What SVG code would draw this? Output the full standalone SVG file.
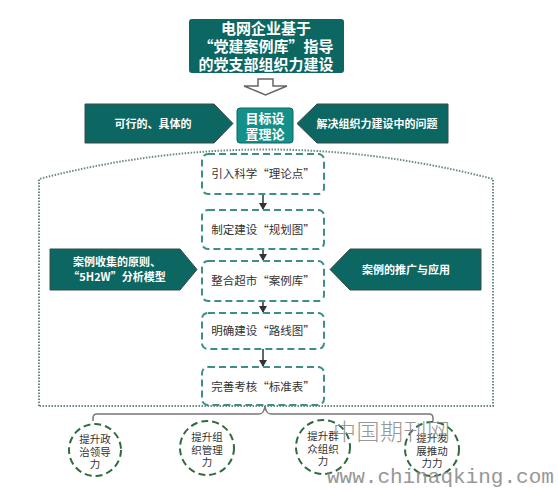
<svg xmlns="http://www.w3.org/2000/svg" width="558" height="489" viewBox="0 0 558 489">
<style>
.dark{fill:#0c6662;stroke:#3b4a48;stroke-width:1}
.wt{fill:#fff;font-family:"Noto Sans CJK SC","Liberation Sans",sans-serif;font-weight:bold;text-anchor:middle}
.box{fill:#fff;stroke:#3e8f8a;stroke-width:2;stroke-dasharray:7 4}
.bt{fill:#333;font-family:"Noto Sans CJK SC","Liberation Sans",sans-serif;font-size:11.5px;text-anchor:middle}
.circ{fill:#fff;stroke:#2f6b3c;stroke-width:2;stroke-dasharray:7 4}
.ct{fill:#333;font-family:"Liberation Sans","Noto Sans CJK SC",sans-serif;font-size:10.5px;text-anchor:middle}
.dot{fill:none;stroke:#6b8a80;stroke-width:2;stroke-dasharray:1.5 1.5}
.arr{stroke:#333;stroke-width:1.5;fill:none;marker-end:url(#ah)}
</style>
<defs>
<marker id="ah" markerWidth="8" markerHeight="8" refX="6" refY="4" orient="auto" markerUnits="userSpaceOnUse">
<path d="M0,0 L7,4 L0,8 Z" fill="#333"/>
</marker>
</defs>
<rect width="558" height="489" fill="#fff"/>
<g id="outline">
<path class="dot" d="M39,406 L39,179 Q266,120 493,179 L493,406 Z"/>
</g>
<g id="title">
<rect x="189" y="19" width="155" height="54" rx="3" fill="#0c6662"/>
<text class="wt" font-size="15" x="266" y="34">电网企业基于</text>
<text class="wt" font-size="15" x="266" y="52">“党建案例库”指导</text>
<text class="wt" font-size="15" x="266" y="70">的党支部组织力建设</text>
</g>
<g id="downarrow">
<path d="M258,79 L273,79 L273,86 L287,86 L265.5,95 L244,86 L258,86 Z" fill="#fff" stroke="#666" stroke-width="1.5"/>
</g>
<g id="left-top">
<path class="dark" d="M85,104 L214,104 L233,123.5 L214,143 L85,143 Z"/>
<text class="wt" font-size="11" x="153" y="128">可行的、具体的</text>
</g>
<g id="goal">
<rect x="237" y="108" width="56" height="35" rx="3" fill="#14908b" stroke="#0c6662" stroke-width="1"/>
<text class="wt" font-size="13" x="265" y="123" font-weight="normal">目标设</text>
<text class="wt" font-size="13" x="265" y="139" font-weight="normal">置理论</text>
</g>
<g id="right-top">
<path class="dark" d="M317,104 L448,104 L448,143 L317,143 L297,123.5 Z"/>
<text class="wt" font-size="11" x="377" y="128">解决组织力建设中的问题</text>
</g>
<g id="left-mid">
<path class="dark" d="M50,249 L180,249 L197,269.5 L180,290 L50,290 Z"/>
<text class="wt" font-size="11" x="117" y="266">案例收集的原则、</text>
<text class="wt" font-size="11" x="117" y="281">“5H2W”分析模型</text>
</g>
<g id="right-mid">
<path class="dark" d="M350,249 L481,249 L481,290 L350,290 L330,269.5 Z"/>
<text class="wt" font-size="11" x="406" y="274">案例的推广与应用</text>
</g>
<g id="connectors">
<line class="arr" x1="263" y1="194" x2="263" y2="209"/>
<line class="arr" x1="263" y1="249" x2="263" y2="260"/>
<line class="arr" x1="263" y1="301" x2="263" y2="312"/>
<line class="arr" x1="263" y1="349" x2="263" y2="366"/>
<path d="M93,421 L93,418 Q93,414 97,414 L259,414 Q264,414 265,406 Q266,414 271,414 L429,414 Q433,414 433,418 L433,421" fill="none" stroke="#777" stroke-width="1.5"/>
</g>
<g id="s1"><rect class="box" x="202" y="154" width="122" height="40" rx="6"/><text class="bt" x="263" y="178">引入科学“理论点”</text></g>
<g id="s2"><rect class="box" x="202" y="210" width="122" height="39" rx="6"/><text class="bt" x="263" y="234">制定建设“规划图”</text></g>
<g id="s3"><rect class="box" x="202" y="261" width="122" height="40" rx="6"/><text class="bt" x="263" y="285">整合超市“案例库”</text></g>
<g id="s4"><rect class="box" x="202" y="313" width="122" height="36" rx="6"/><text class="bt" x="263" y="335">明确建设“路线图”</text></g>
<g id="s5"><rect class="box" x="202" y="367" width="122" height="38" rx="6"/><text class="bt" x="263" y="391">完善考核“标准表”</text></g>
<g id="c1"><circle class="circ" cx="95" cy="450" r="26"/><text class="ct" x="95" y="443">提升政</text><text class="ct" x="95" y="455.5">治领导</text><text class="ct" x="95" y="468">力</text></g>
<g id="c2"><circle class="circ" cx="207" cy="448" r="27"/><text class="ct" x="207" y="441">提升组</text><text class="ct" x="207" y="453.5">织管理</text><text class="ct" x="207" y="466">力</text></g>
<g id="c3"><circle class="circ" cx="323" cy="447" r="27"/><text class="ct" x="323" y="440">提升群</text><text class="ct" x="323" y="452.5">众组织</text><text class="ct" x="323" y="465">力</text></g>
<g id="c4"><circle class="circ" cx="432" cy="449" r="27"/><text class="ct" x="432" y="442">提升发</text><text class="ct" x="432" y="454.5">展推动</text><text class="ct" x="432" y="467">力力</text></g>
<g id="watermark" fill="#8c8c8c" opacity="0.9">
<text x="333" y="440" font-family="'Noto Sans CJK SC',serif" font-weight="300" font-size="23" letter-spacing="0.5">中国期刊网</text>
<text x="327" y="483" font-family="'Liberation Mono',monospace" font-size="21">www.chinaqking.com</text>
</g>
</svg>
